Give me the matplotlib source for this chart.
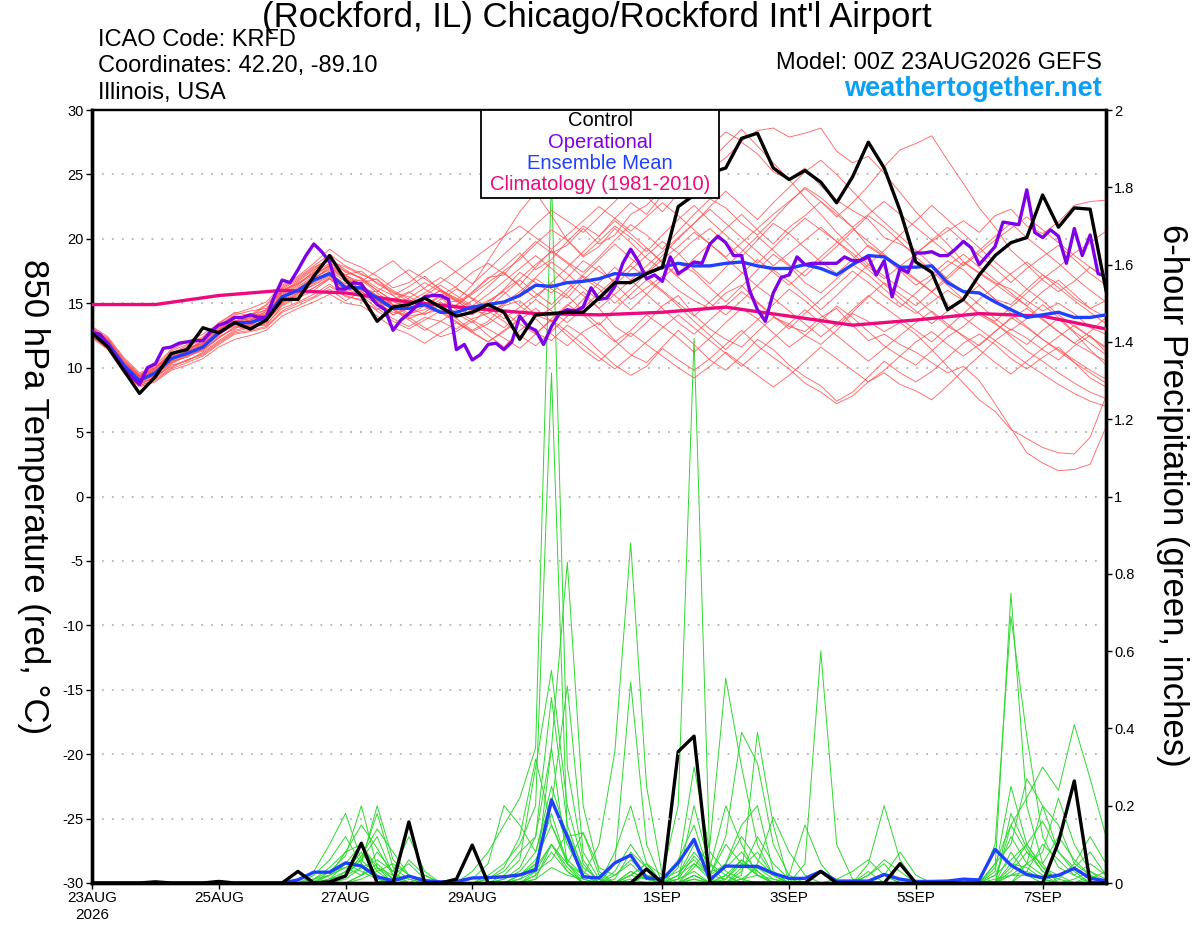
import numpy as np
import matplotlib
matplotlib.use('Agg')
import matplotlib.pyplot as plt
from matplotlib.patches import Rectangle

plt.rcParams['font.family'] = ['Liberation Sans', 'DejaVu Sans']
plt.rcParams['axes.unicode_minus'] = False

# forecast hours, 6-hourly for ensemble, 3-hourly for operational
hours = np.arange(0, 385, 6)
op_hours = np.arange(0, 385, 3)
clim_hours = np.arange(0, 385, 24)

# 850 hPa temperature (C)
control_t = [12.7, 11.6, 9.8, 8.0, 9.3, 11.1, 11.4, 13.1, 12.7, 13.5, 13.0, 13.7, 15.3,
             15.3, 17.1, 18.7, 16.8, 15.6, 13.6, 14.7, 14.9, 15.4, 14.7, 14.0, 14.3, 14.9,
             14.3, 12.2, 14.1, 14.2, 14.3, 14.3, 15.4, 16.6, 16.6, 17.3, 17.8, 22.5, 23.4,
             25.1, 25.5, 27.8, 28.2, 25.5, 24.6, 25.3, 24.4, 22.8, 24.8, 27.5, 25.5, 22.2,
             18.2, 17.4, 14.5, 15.3, 17.2, 18.7, 19.7, 20.1, 23.4, 20.9, 22.4, 22.3, 16.0]

mean_t = [12.8, 11.9, 10.2, 9.0, 9.6, 10.7, 11.1, 11.6, 12.7, 13.5, 13.5, 13.9, 15.5,
          16.0, 16.8, 17.3, 16.2, 16.2, 15.4, 14.6, 14.6, 14.9, 14.3, 14.3, 14.7, 14.9,
          15.1, 15.6, 16.4, 16.3, 16.6, 16.7, 16.9, 17.3, 17.2, 17.3, 17.8, 18.1, 17.9,
          17.9, 18.1, 18.2, 17.9, 17.7, 17.7, 18.0, 17.7, 17.2, 18.0, 18.7, 18.6, 17.8,
          17.8, 17.9, 16.6, 15.9, 15.8, 15.1, 14.5, 13.9, 14.1, 14.3, 13.9, 13.9, 14.1]

oper_t = [12.7, 12.6, 11.8, 10.8, 9.9, 9.3, 8.7, 10.0, 10.3, 11.5, 11.6, 11.9, 12.0,
          12.1, 12.1, 12.8, 13.3, 13.5, 13.9, 13.9, 14.1, 13.9, 13.9, 15.5, 16.8, 16.6,
          17.6, 18.7, 19.6, 19.0, 18.2, 16.1, 16.1, 16.6, 16.5, 15.6, 14.9, 14.5, 12.9,
          13.7, 14.2, 14.8, 15.5, 15.6, 15.6, 15.3, 11.4, 11.8, 10.6, 11.0, 11.8, 11.9,
          11.4, 12.0, 14.0, 13.2, 12.9, 11.8, 13.2, 14.2, 14.5, 14.4, 14.7, 16.2, 15.3,
          15.4, 16.3, 18.1, 19.2, 18.2, 16.9, 17.2, 16.7, 18.6, 17.3, 17.7, 18.2, 18.1,
          19.6, 20.2, 19.7, 18.7, 18.7, 16.0, 14.5, 13.6, 15.8, 17.0, 17.2, 18.6, 18.0,
          18.1, 18.1, 18.1, 18.1, 18.6, 18.3, 18.3, 18.6, 17.2, 18.3, 15.5, 17.7, 17.4,
          18.9, 18.9, 19.0, 18.7, 18.7, 19.2, 19.8, 19.3, 18.0, 18.7, 19.4, 21.3, 21.2,
          21.1, 23.8, 20.5, 20.1, 20.7, 20.2, 18.1, 20.8, 18.7, 20.3, 17.3, 17.1]

clim_t = [14.9, 14.9, 15.6, 16.0, 15.8, 15.1, 14.6, 14.2, 14.1, 14.3, 14.7, 14.0,
          13.3, 13.7, 14.2, 14.0, 13.0]

# ensemble members, 850 hPa temperature
t01 = [13.0, 12.2, 10.6, 9.4, 10.2, 11.4, 12.0, 12.6, 13.4, 14.3, 14.0, 14.8, 16.2,
       16.9, 17.8, 18.4, 17.6, 16.9, 16.0, 15.2, 15.8, 16.6, 15.9, 15.1, 15.8, 16.9,
       17.8, 18.9, 17.6, 18.4, 19.8, 21.0, 20.2, 21.6, 22.8, 21.9, 23.4, 24.8, 25.9,
       27.1, 28.3, 27.6, 28.4, 28.6, 27.9, 28.2, 28.6, 26.8, 25.9, 26.4, 25.1, 23.6,
       22.1, 20.8, 19.6, 18.2, 17.4, 16.6, 16.1, 15.2, 14.4, 15.0, 14.2, 13.1, 12.6]
t02 = [12.5, 11.6, 9.9, 8.8, 9.2, 10.2, 10.5, 11.2, 12.1, 12.9, 13.2, 13.3, 14.8,
       15.4, 16.0, 16.9, 15.8, 15.6, 14.6, 13.8, 13.2, 13.9, 13.6, 13.0, 13.8, 14.2,
       14.9, 15.7, 16.9, 16.1, 15.4, 16.8, 17.9, 16.5, 15.3, 16.2, 17.1, 16.0, 15.2,
       14.6, 15.8, 16.4, 15.1, 14.0, 13.2, 12.8, 13.9, 14.6, 13.3, 12.1, 12.6, 11.8,
       11.2, 10.4, 9.6, 10.1, 9.0, 7.2, 5.3, 3.4, 2.6, 2.0, 2.1, 2.5, 5.4]
t03 = [12.6, 11.8, 10.0, 8.9, 9.5, 10.4, 11.0, 11.4, 12.4, 13.0, 13.7, 14.2, 15.1,
       15.6, 16.2, 17.0, 16.0, 16.3, 15.6, 14.9, 14.0, 14.2, 14.5, 13.8, 12.9, 13.6,
       14.8, 15.2, 14.1, 13.6, 14.8, 15.9, 14.6, 13.2, 12.4, 13.5, 14.8, 15.6, 14.1,
       13.0, 12.2, 11.6, 12.8, 13.9, 13.4, 12.5, 11.8, 12.9, 14.2, 13.6, 12.8, 13.5,
       12.6, 11.4, 10.1, 8.8, 7.5, 6.6, 5.2, 4.5, 3.8, 3.4, 3.3, 4.6, 7.8]
t04 = [12.9, 12.1, 10.4, 9.2, 9.8, 10.9, 11.2, 11.9, 12.9, 13.7, 13.3, 14.0, 15.8,
       16.4, 17.5, 18.6, 17.0, 16.5, 15.2, 14.1, 14.8, 15.4, 14.6, 14.8, 15.9, 17.0,
       17.2, 18.6, 19.8, 18.9, 19.5, 20.8, 19.6, 20.3, 21.9, 22.6, 23.8, 24.9, 26.1,
       25.4, 26.3, 27.5, 26.6, 25.2, 24.6, 25.5, 24.1, 23.0, 22.2, 21.5, 20.1, 19.6,
       18.9, 19.8, 20.6, 21.4, 20.5, 21.8, 22.3, 21.0, 20.4, 21.3, 22.6, 22.9, 23.0]
t05 = [12.4, 11.5, 9.7, 8.6, 9.0, 9.9, 10.4, 10.9, 11.8, 12.6, 12.8, 13.1, 14.3,
       14.8, 15.4, 16.1, 15.2, 15.9, 15.1, 14.6, 13.9, 13.1, 12.4, 12.8, 13.6, 12.5,
       11.6, 12.9, 13.8, 12.6, 11.7, 12.8, 13.5, 12.1, 11.0, 10.4, 11.6, 12.9, 11.8,
       10.6, 9.8, 10.9, 12.2, 11.4, 10.2, 9.3, 8.6, 7.4, 8.1, 9.3, 10.5, 9.6,
       8.9, 9.7, 10.8, 11.9, 12.6, 11.8, 10.7, 9.9, 10.8, 11.6, 10.4, 9.2, 8.5]
t06 = [13.2, 12.4, 10.8, 9.6, 10.1, 11.0, 11.6, 12.2, 13.3, 14.1, 14.4, 14.6, 16.0,
       16.6, 17.3, 17.9, 17.2, 17.5, 16.5, 15.8, 15.5, 14.9, 15.6, 16.3, 17.4, 18.1,
       17.3, 16.4, 17.8, 19.1, 18.2, 17.4, 18.6, 19.9, 21.1, 20.3, 19.2, 20.6, 21.9,
       23.1, 22.4, 21.2, 20.3, 21.5, 22.8, 24.0, 23.2, 22.1, 20.9, 19.4, 18.6, 17.5,
       16.4, 17.2, 18.3, 17.6, 16.4, 15.3, 14.9, 16.1, 17.2, 16.5, 15.4, 14.6, 15.2]
t07 = [12.7, 11.7, 10.0, 8.7, 9.3, 10.3, 10.9, 11.3, 12.3, 13.2, 13.0, 13.5, 15.0,
       15.7, 16.5, 17.2, 16.4, 16.0, 15.9, 16.8, 17.6, 16.9, 16.1, 15.3, 14.6, 15.2,
       15.9, 14.8, 13.9, 14.6, 15.8, 17.1, 16.4, 15.6, 14.5, 15.7, 16.9, 18.1, 17.4,
       16.2, 15.1, 16.3, 17.6, 18.8, 17.9, 16.6, 15.8, 16.9, 18.0, 17.2, 16.1, 15.0,
       14.2, 15.1, 16.0, 15.2, 14.1, 13.4, 12.6, 11.8, 12.9, 13.8, 12.7, 11.4, 10.2]
t08 = [12.8, 12.0, 10.3, 9.1, 9.7, 10.8, 11.3, 11.8, 12.8, 13.4, 13.9, 14.3, 15.6,
       16.2, 17.0, 17.6, 16.9, 16.3, 15.0, 14.3, 14.1, 14.8, 15.5, 14.7, 14.1, 14.9,
       16.1, 17.4, 16.6, 15.8, 17.0, 18.3, 17.5, 16.7, 18.0, 19.3, 18.2, 17.1, 18.5,
       19.6, 20.8, 21.9, 20.7, 19.6, 20.9, 21.8, 22.9, 21.7, 22.8, 24.1, 25.6, 26.9,
       27.4, 28.0, 26.1, 24.3, 22.4, 20.9, 19.1, 18.0, 16.8, 15.9, 16.7, 17.8, 16.9]
t09 = [12.3, 11.4, 9.6, 8.5, 8.9, 9.8, 10.2, 10.7, 11.6, 12.2, 12.5, 12.9, 14.0,
       14.6, 15.1, 15.7, 15.0, 14.8, 14.0, 13.1, 12.6, 11.9, 12.7, 13.5, 12.8, 12.0,
       12.9, 13.8, 12.7, 12.1, 13.3, 12.5, 11.3, 10.2, 9.4, 10.1, 11.5, 10.6, 9.8,
       10.7, 11.8, 12.9, 11.7, 10.8, 9.9, 8.8, 8.1, 7.2, 7.8, 8.9, 9.6, 8.7,
       8.2, 7.5, 8.6, 9.8, 10.9, 12.1, 13.0, 12.3, 11.4, 10.6, 11.7, 12.5, 11.2]
t10 = [12.9, 12.0, 10.4, 9.3, 9.9, 11.0, 11.5, 12.0, 13.0, 13.9, 13.6, 14.1, 15.9,
       16.7, 17.6, 18.3, 17.8, 17.2, 16.8, 16.0, 15.3, 14.7, 14.2, 14.9, 15.7, 16.6,
       17.5, 18.4, 19.6, 20.7, 19.9, 18.6, 19.4, 20.8, 19.7, 18.5, 17.6, 18.8, 19.9,
       20.8, 19.7, 18.6, 19.9, 21.2, 20.4, 19.3, 18.2, 17.3, 18.4, 19.5, 18.7, 17.6,
       16.8, 15.9, 17.1, 18.2, 17.3, 16.5, 15.6, 14.8, 15.9, 16.8, 15.7, 14.6, 13.9]
t11 = [13.1, 12.3, 10.7, 9.5, 10.0, 11.3, 11.8, 12.4, 13.5, 14.2, 14.6, 15.1, 16.4,
       17.1, 18.1, 19.2, 18.3, 17.8, 17.1, 16.2, 16.6, 17.5, 18.3, 17.4, 16.5, 17.6,
       18.8, 19.9, 21.1, 22.2, 21.4, 20.5, 21.7, 22.9, 24.2, 23.3, 22.1, 23.5, 24.8,
       26.0, 27.3, 28.5, 27.2, 25.9, 24.6, 23.2, 21.9, 20.5, 19.3, 18.0, 17.1, 16.2,
       15.4, 14.3, 13.2, 12.5, 11.7, 12.8, 13.9, 13.1, 12.2, 11.4, 10.6, 9.8, 9.1]
t12 = [12.6, 11.7, 10.1, 9.0, 9.4, 10.5, 10.8, 11.5, 12.6, 13.3, 13.4, 13.8, 15.3,
       15.9, 16.6, 17.3, 16.5, 16.6, 16.9, 15.6, 14.7, 14.1, 14.9, 15.2, 14.4, 14.2,
       15.0, 15.9, 17.0, 18.2, 17.3, 16.2, 15.2, 16.4, 17.6, 18.7, 19.8, 18.9, 17.6,
       16.5, 17.8, 19.0, 20.2, 19.1, 18.0, 17.1, 18.3, 19.4, 20.6, 21.8, 20.9, 19.8,
       18.6, 17.5, 16.4, 15.3, 14.2, 13.6, 14.7, 15.8, 16.9, 17.8, 18.9, 19.7, 20.6]
t13 = [12.5, 11.6, 9.8, 8.7, 9.3, 10.1, 10.6, 11.1, 12.0, 12.8, 13.1, 13.4, 14.6,
       15.1, 15.7, 16.5, 15.5, 15.3, 14.4, 13.6, 13.0, 13.7, 14.4, 13.6, 12.8, 13.4,
       14.3, 13.4, 12.6, 13.8, 14.9, 14.1, 13.0, 12.0, 12.9, 14.1, 13.2, 12.3, 11.2,
       12.3, 13.5, 14.6, 13.8, 12.7, 11.6, 12.5, 13.6, 14.8, 13.9, 12.8, 11.7, 10.9,
       10.2, 11.3, 12.4, 13.2, 14.3, 13.5, 12.4, 11.3, 10.5, 9.6, 8.8, 8.1, 7.6]
t14 = [13.0, 12.1, 10.5, 9.3, 9.9, 11.1, 11.4, 12.1, 13.1, 13.8, 14.1, 14.5, 16.1,
       16.8, 17.7, 18.5, 17.4, 17.0, 16.2, 15.6, 16.3, 17.1, 16.0, 15.2, 16.4, 18.3,
       20.2, 22.1, 23.6, 21.8, 19.9, 18.7, 19.8, 21.0, 20.1, 19.0, 20.3, 21.5, 22.6,
       21.4, 20.3, 19.2, 18.1, 19.3, 20.5, 21.6, 20.7, 19.8, 18.9, 17.8, 16.9, 17.9,
       18.8, 19.9, 20.9, 19.8, 18.7, 17.7, 16.6, 17.7, 18.6, 19.5, 18.4, 17.3, 16.4]
t15 = [12.7, 11.8, 10.1, 8.9, 9.6, 10.6, 11.1, 11.6, 12.5, 13.4, 13.7, 14.0, 15.4,
       16.0, 16.7, 17.5, 16.7, 16.8, 15.8, 14.9, 14.2, 14.5, 15.3, 16.1, 15.4, 14.7,
       13.8, 14.7, 15.6, 16.5, 15.6, 14.4, 13.3, 14.5, 15.7, 16.8, 15.9, 14.8, 13.6,
       12.5, 11.4, 12.6, 13.7, 14.9, 16.1, 15.2, 14.1, 13.2, 14.3, 15.5, 16.6, 15.7,
       14.8, 15.9, 16.8, 15.9, 14.9, 13.8, 12.9, 13.8, 14.9, 13.9, 12.8, 11.9, 11.0]
t16 = [12.9, 12.0, 10.3, 9.2, 9.8, 10.8, 11.2, 11.7, 12.8, 13.6, 13.8, 14.2, 15.7,
       16.3, 17.1, 17.9, 16.8, 16.1, 15.3, 14.5, 13.8, 14.3, 15.1, 14.2, 13.5, 14.6,
       15.7, 16.8, 15.8, 14.9, 16.1, 17.2, 18.4, 19.6, 18.5, 17.4, 18.7, 20.0, 21.2,
       22.5, 23.7, 22.6, 21.5, 22.8, 24.0, 25.2, 26.1, 25.0, 23.7, 22.4, 21.3, 20.2,
       19.1, 18.0, 16.9, 18.0, 19.1, 20.2, 21.2, 20.1, 19.1, 18.1, 17.0, 16.0, 15.1]
t17 = [12.4, 11.5, 9.8, 8.6, 9.1, 10.0, 10.6, 11.0, 11.9, 12.7, 12.9, 13.2, 14.4,
       15.0, 15.5, 16.3, 15.6, 15.2, 14.5, 15.3, 15.9, 15.1, 14.3, 13.5, 12.7, 12.0,
       12.8, 13.7, 14.6, 13.6, 12.5, 11.4, 10.5, 11.6, 12.7, 11.8, 10.9, 10.0, 9.2,
       10.1, 11.2, 10.3, 9.4, 8.5, 9.4, 10.5, 11.6, 10.7, 9.8, 8.9, 9.8, 10.9,
       12.0, 12.8, 11.8, 10.9, 11.8, 12.8, 13.8, 14.6, 13.7, 12.8, 11.9, 11.2, 10.5]
t18 = [13.1, 12.2, 10.5, 9.3, 10.0, 11.1, 11.7, 12.3, 13.3, 14.0, 13.6, 13.9, 15.5,
       16.1, 16.9, 17.8, 17.1, 16.7, 17.5, 18.3, 17.2, 16.1, 15.4, 14.5, 15.2, 16.3,
       17.4, 16.3, 15.4, 16.6, 17.8, 19.0, 20.2, 21.4, 20.4, 19.3, 18.1, 17.0, 16.0,
       15.0, 14.1, 15.2, 16.4, 17.6, 16.7, 15.6, 14.5, 15.6, 16.8, 18.0, 19.1, 20.3,
       21.4, 22.6, 21.5, 20.4, 19.3, 18.2, 17.2, 16.1, 15.2, 14.1, 13.2, 12.4, 11.6]
t19 = [12.6, 11.7, 10.0, 8.8, 9.4, 10.4, 10.9, 11.4, 12.3, 13.1, 13.3, 13.6, 14.9,
       15.5, 16.2, 16.9, 16.1, 15.7, 14.9, 14.1, 14.6, 15.3, 16.0, 15.2, 14.3, 15.1,
       16.0, 16.9, 18.0, 19.0, 18.1, 17.0, 16.1, 15.0, 16.1, 17.3, 18.4, 19.4, 20.5,
       19.6, 18.5, 17.4, 16.3, 15.4, 14.4, 13.4, 12.4, 13.4, 14.5, 15.6, 14.7, 13.8,
       12.9, 12.0, 13.1, 14.2, 15.3, 16.3, 17.3, 18.2, 17.2, 16.2, 15.2, 14.3, 13.4]
t20 = [12.8, 11.9, 10.2, 9.0, 9.5, 10.7, 11.0, 11.7, 12.6, 13.3, 13.7, 14.4, 15.9,
       16.5, 17.4, 18.1, 17.5, 16.9, 16.0, 15.2, 14.5, 15.3, 16.0, 15.4, 14.7, 13.9,
       13.1, 14.2, 15.3, 14.4, 13.5, 14.6, 15.8, 16.9, 17.9, 17.0, 16.0, 15.0, 14.0,
       15.1, 16.2, 17.3, 18.4, 17.4, 16.4, 17.5, 18.6, 19.7, 20.8, 19.8, 18.8, 17.8,
       16.9, 15.9, 14.9, 13.9, 13.0, 12.1, 11.2, 10.3, 9.5, 8.7, 8.0, 7.4, 7.0]
t21 = [12.4, 11.6, 10.1, 9.1, 9.6, 10.5, 11.1, 11.8, 12.9, 13.8, 14.2, 14.0, 15.0,
       15.8, 16.9, 17.7, 17.0, 16.0, 15.5, 14.8, 15.4, 16.2, 17.0, 16.2, 15.3, 14.4,
       13.6, 12.5, 11.7, 12.8, 14.0, 15.3, 16.6, 17.8, 16.8, 15.7, 14.6, 13.5, 12.6,
       13.7, 14.8, 15.9, 15.0, 14.0, 13.0, 14.2, 15.3, 16.4, 17.5, 16.6, 15.6, 14.7,
       15.8, 16.9, 17.9, 18.8, 17.8, 16.8, 15.8, 14.8, 13.8, 12.8, 11.9, 12.8, 13.9]
t22 = [13.0, 12.0, 10.2, 9.0, 9.5, 10.6, 11.3, 12.1, 13.0, 13.6, 14.1, 14.9, 16.3,
       17.0, 17.9, 18.8, 17.9, 17.3, 16.6, 15.9, 15.1, 15.8, 16.6, 17.5, 18.4, 19.3,
       20.2, 21.0, 20.1, 19.2, 20.3, 21.4, 22.5, 21.6, 20.6, 21.7, 22.8, 21.8, 20.7,
       19.6, 18.6, 19.7, 20.8, 21.9, 22.9, 23.9, 22.9, 21.9, 20.9, 21.9, 22.9, 21.9,
       20.9, 19.9, 18.9, 17.9, 18.9, 19.9, 20.8, 21.7, 20.7, 19.7, 18.7, 17.8, 17.0]
t23 = [12.6, 11.8, 10.2, 9.2, 9.7, 10.9, 11.5, 11.9, 12.7, 13.5, 13.2, 13.7, 15.2,
       15.8, 16.4, 17.1, 16.3, 15.9, 15.2, 14.5, 13.7, 12.9, 13.6, 14.4, 13.7, 13.0,
       12.3, 11.5, 12.6, 13.7, 12.8, 11.8, 10.8, 9.9, 10.9, 12.0, 13.1, 14.1, 13.1,
       12.1, 11.1, 10.1, 11.2, 12.3, 13.4, 14.5, 13.5, 12.5, 11.5, 10.5, 11.5, 12.5,
       13.5, 14.4, 13.4, 12.4, 11.4, 10.4, 9.5, 10.5, 11.5, 12.4, 13.3, 12.4, 11.5]
t24 = [12.9, 12.1, 10.5, 9.4, 10.0, 11.0, 11.4, 11.9, 12.8, 13.6, 13.9, 14.5, 16.0,
       16.5, 17.2, 18.0, 17.2, 16.4, 15.6, 15.1, 14.8, 15.6, 16.4, 15.6, 14.8, 15.7,
       16.7, 17.7, 18.7, 17.7, 16.6, 15.6, 14.6, 15.7, 16.8, 17.9, 19.0, 20.1, 21.2,
       22.3, 21.2, 20.1, 19.0, 17.9, 18.9, 19.9, 20.9, 19.8, 18.7, 17.6, 16.5, 15.4,
       14.4, 13.4, 14.4, 15.4, 16.4, 15.3, 14.2, 13.2, 12.2, 11.3, 10.4, 9.6, 8.8]

# 6-hour precipitation (inches)
control_p = [0, 0, 0, 0, 0.003, 0, 0, 0, 0.004, 0, 0, 0, 0,
             0.03, 0, 0.003, 0.018, 0.103, 0, 0, 0.158, 0, 0, 0.01, 0.098, 0,
             0, 0, 0, 0, 0, 0, 0, 0, 0, 0.036, 0, 0.34, 0.38,
             0, 0, 0, 0, 0, 0, 0, 0.03, 0, 0, 0, 0, 0.05,
             0, 0, 0, 0, 0, 0, 0, 0, 0, 0.106, 0.264, 0, 0]

mean_p = [0, 0, 0, 0, 0.001, 0, 0, 0, 0.002, 0, 0, 0, 0,
          0.008, 0.028, 0.028, 0.052, 0.044, 0.016, 0.006, 0.018, 0.006, 0.003, 0.004, 0.013, 0.014,
          0.016, 0.021, 0.034, 0.215, 0.12, 0.016, 0.013, 0.052, 0.072, 0.013, 0.01, 0.052, 0.113,
          0.008, 0.044, 0.043, 0.043, 0.025, 0.012, 0.012, 0.03, 0.005, 0.005, 0.005, 0.022, 0.01,
          0.004, 0.004, 0.005, 0.01, 0.008, 0.087, 0.046, 0.022, 0.014, 0.02, 0.038, 0.012, 0.006]

p01 = [0, 0, 0, 0, 0, 0, 0, 0, 0, 0, 0, 0, 0,
       0, 0.02, 0.06, 0.12, 0.05, 0.01, 0, 0, 0, 0, 0, 0.03, 0.08,
       0.15, 0.22, 0.35, 1.83, 0.30, 0.06, 0, 0, 0.02, 0.05, 0, 0.01, 0.03,
       0, 0, 0.04, 0.08, 0.02, 0, 0, 0, 0, 0, 0.02, 0.05, 0,
       0, 0, 0, 0, 0, 0.02, 0.06, 0.1, 0.04, 0.02, 0, 0, 0]
p02 = [0, 0, 0, 0, 0, 0, 0, 0, 0, 0, 0, 0, 0,
       0, 0.01, 0.04, 0.08, 0.15, 0.09, 0.02, 0.01, 0, 0, 0, 0, 0.02,
       0.05, 0.1, 0.2, 1.32, 0.12, 0.02, 0, 0.03, 0.1, 0.04, 0, 0, 0.02,
       0, 0.05, 0.12, 0.06, 0.02, 0, 0, 0, 0, 0, 0, 0, 0,
       0, 0, 0, 0, 0, 0, 0.15, 0.08, 0.03, 0.01, 0.05, 0.12, 0.05]
p03 = [0, 0, 0, 0, 0, 0, 0, 0, 0, 0, 0, 0, 0,
       0.01, 0.03, 0.1, 0.18, 0.06, 0.02, 0, 0, 0, 0, 0, 0, 0,
       0.01, 0.04, 0.12, 0.35, 0.83, 0.2, 0.03, 0, 0, 0.02, 0.01, 0.06, 0.15,
       0.02, 0.1, 0.05, 0.02, 0, 0, 0, 0, 0, 0, 0.03, 0, 0,
       0, 0, 0, 0, 0, 0.03, 0.25, 0.1, 0.04, 0, 0, 0, 0]
p04 = [0, 0, 0, 0, 0, 0, 0, 0, 0, 0, 0, 0, 0,
       0, 0, 0.03, 0.07, 0.2, 0.04, 0, 0, 0.02, 0, 0, 0, 0,
       0, 0.02, 0.06, 0.15, 0.05, 0.02, 0.1, 0.34, 0.88, 0.25, 0.02, 0, 0,
       0, 0.02, 0.06, 0.02, 0, 0, 0.05, 0.6, 0.1, 0.01, 0, 0, 0,
       0, 0, 0, 0, 0, 0, 0, 0.05, 0.2, 0.08, 0.03, 0, 0]
p05 = [0, 0, 0, 0, 0, 0, 0, 0, 0, 0, 0, 0, 0,
       0, 0, 0.01, 0.05, 0.1, 0.03, 0, 0.06, 0.02, 0, 0, 0, 0,
       0, 0, 0.03, 0.1, 0.04, 0, 0, 0, 0.02, 0.05, 0.02, 0.2, 1.41,
       0.05, 0, 0.01, 0.04, 0.02, 0, 0, 0, 0, 0, 0, 0, 0,
       0, 0, 0, 0, 0, 0.01, 0.02, 0.02, 0.01, 0, 0, 0, 0]
p06 = [0, 0, 0, 0, 0, 0, 0, 0, 0, 0, 0, 0, 0,
       0, 0, 0, 0.03, 0.08, 0.02, 0, 0, 0, 0, 0, 0, 0.01,
       0.03, 0.08, 0.12, 0.48, 0.15, 0.03, 0, 0, 0, 0, 0, 0.02, 0.05,
       0.02, 0.01, 0.06, 0.03, 0, 0, 0, 0, 0, 0, 0, 0.02, 0,
       0, 0, 0, 0, 0, 0.04, 0.75, 0.2, 0.05, 0, 0, 0, 0]
p07 = [0, 0, 0, 0, 0, 0, 0, 0, 0, 0, 0, 0, 0,
       0, 0.01, 0.02, 0.04, 0.06, 0.12, 0.02, 0, 0, 0, 0, 0, 0,
       0, 0.01, 0.05, 0.2, 0.51, 0.08, 0.01, 0, 0.03, 0.01, 0, 0, 0.04,
       0.1, 0.53, 0.3, 0.1, 0.02, 0, 0, 0, 0, 0, 0, 0, 0,
       0, 0, 0, 0, 0, 0.1, 0.69, 0.38, 0.12, 0.04, 0.02, 0, 0]
p08 = [0, 0, 0, 0, 0, 0, 0, 0, 0, 0, 0, 0, 0,
       0, 0, 0.01, 0.03, 0.05, 0.2, 0.06, 0.02, 0, 0, 0, 0, 0,
       0, 0, 0.02, 0.08, 0.03, 0, 0, 0.05, 0.52, 0.1, 0, 0, 0.02,
       0, 0, 0.02, 0.39, 0.15, 0, 0, 0, 0, 0, 0, 0, 0,
       0, 0, 0, 0, 0, 0.05, 0.15, 0.22, 0.3, 0.24, 0.41, 0.27, 0.12]
p09 = [0, 0, 0, 0, 0, 0, 0, 0, 0, 0, 0, 0, 0,
       0, 0, 0, 0.02, 0.04, 0.06, 0.03, 0.12, 0.03, 0, 0, 0, 0,
       0, 0.02, 0.04, 0.1, 0.05, 0.13, 0.02, 0, 0, 0.02, 0.01, 0.03, 0.06,
       0.02, 0.12, 0.39, 0.31, 0.1, 0.02, 0, 0, 0, 0, 0, 0.02, 0.08,
       0.02, 0, 0, 0, 0, 0.05, 0.1, 0.27, 0.2, 0.15, 0.05, 0.02, 0]
p10 = [0, 0, 0, 0, 0, 0, 0, 0, 0, 0, 0, 0, 0,
       0, 0, 0, 0, 0.02, 0.08, 0.03, 0, 0, 0, 0, 0, 0,
       0.02, 0.06, 0.3, 0.55, 0.2, 0.05, 0, 0.08, 0.2, 0.05, 0, 0.02, 0.1,
       0.05, 0.02, 0, 0.05, 0.17, 0.08, 0.02, 0, 0, 0, 0.05, 0.2, 0.06,
       0, 0, 0, 0, 0, 0, 0.02, 0.05, 0.02, 0, 0, 0, 0]
p11 = [0, 0, 0, 0, 0, 0, 0, 0, 0, 0, 0, 0, 0,
       0, 0, 0.02, 0.05, 0.03, 0.01, 0, 0, 0, 0, 0, 0.01, 0.05,
       0.2, 0.15, 0.08, 0.25, 0.12, 0.13, 0.04, 0.02, 0.05, 0.01, 0, 0.04, 0.3,
       0.08, 0.03, 0.01, 0, 0, 0.02, 0.15, 0.05, 0, 0, 0, 0, 0,
       0, 0, 0, 0, 0, 0, 0.03, 0.08, 0.05, 0.12, 0.06, 0.02, 0]
p12 = [0, 0, 0, 0, 0, 0, 0, 0, 0, 0, 0, 0, 0,
       0, 0, 0.01, 0.02, 0.07, 0.14, 0.08, 0.02, 0, 0, 0, 0, 0,
       0, 0, 0.02, 0.35, 0.05, 0, 0, 0.02, 0.06, 0.02, 0, 0.02, 0.08,
       0.03, 0.04, 0.08, 0.03, 0, 0, 0, 0, 0, 0, 0, 0, 0,
       0, 0, 0, 0, 0, 0.02, 0.12, 0.05, 0.08, 0.22, 0.1, 0.03, 0]
p13 = [0, 0, 0, 0, 0, 0, 0, 0, 0, 0, 0, 0, 0,
       0, 0.005, 0.02, 0.08, 0.1, 0.04, 0.02, 0.05, 0.01, 0, 0, 0, 0,
       0.01, 0.03, 0.08, 0.22, 0.1, 0.02, 0, 0.01, 0.08, 0.04, 0, 0.01, 0.2,
       0.04, 0.2, 0.1, 0.02, 0, 0, 0, 0, 0.01, 0.03, 0.06, 0.02, 0,
       0, 0, 0, 0, 0, 0, 0.04, 0.1, 0.16, 0.08, 0.04, 0.08, 0.02]
p14 = [0, 0, 0, 0, 0, 0, 0, 0, 0, 0, 0, 0, 0,
       0, 0, 0, 0.01, 0.04, 0.02, 0, 0, 0, 0, 0, 0, 0,
       0, 0.02, 0.05, 0.18, 0.05, 0.01, 0, 0, 0, 0, 0, 0.01, 0.07,
       0.02, 0.05, 0.15, 0.2, 0.03, 0, 0, 0, 0, 0, 0, 0, 0,
       0, 0, 0, 0, 0, 0, 0.08, 0.02, 0, 0, 0, 0.01, 0.03]
p15 = [0, 0, 0, 0, 0, 0, 0, 0, 0, 0, 0, 0, 0,
       0, 0, 0, 0, 0.01, 0.03, 0.05, 0.02, 0, 0, 0, 0, 0,
       0, 0, 0.01, 0.04, 0.02, 0.01, 0, 0, 0.03, 0.01, 0, 0, 0.05,
       0.01, 0, 0.03, 0.12, 0.05, 0.01, 0, 0, 0, 0, 0, 0, 0,
       0, 0, 0, 0, 0, 0, 0.18, 0.09, 0.03, 0.01, 0, 0, 0]
p16 = [0, 0, 0, 0, 0, 0, 0, 0, 0, 0, 0, 0, 0,
       0, 0.01, 0.03, 0.04, 0.02, 0.05, 0.01, 0, 0, 0, 0, 0, 0.01,
       0.04, 0.12, 0.32, 0.15, 0.06, 0.02, 0, 0, 0.01, 0, 0, 0, 0.01,
       0, 0.02, 0, 0, 0, 0, 0, 0, 0, 0, 0.02, 0.06, 0.03,
       0, 0, 0, 0, 0, 0, 0.02, 0.03, 0.01, 0, 0.01, 0.03, 0.01]
p17 = [0, 0, 0, 0, 0, 0, 0, 0, 0, 0, 0, 0, 0,
       0, 0, 0.01, 0.02, 0.06, 0.18, 0.04, 0.01, 0, 0, 0, 0, 0,
       0, 0.01, 0.03, 0.06, 0.13, 0.04, 0.01, 0, 0.02, 0.01, 0, 0, 0.01,
       0, 0.01, 0.05, 0.04, 0.01, 0, 0, 0, 0, 0, 0, 0, 0,
       0, 0, 0, 0, 0, 0, 0, 0.03, 0.1, 0.06, 0.02, 0.05, 0.02]
p18 = [0, 0, 0, 0, 0, 0, 0, 0, 0, 0, 0, 0, 0,
       0, 0, 0, 0, 0.02, 0.04, 0.01, 0, 0, 0, 0, 0, 0,
       0, 0, 0.01, 0.1, 0.03, 0, 0, 0, 0, 0, 0, 0, 0.02,
       0, 0, 0.01, 0.02, 0.01, 0, 0, 0, 0, 0, 0, 0, 0,
       0, 0, 0, 0, 0, 0, 0.05, 0.04, 0.01, 0, 0, 0.02, 0]

temp_members = [t01, t02, t03, t04, t05, t06, t07, t08, t09, t10, t11, t12,
                t13, t14, t15, t16, t17, t18, t19, t20, t21, t22, t23, t24]
precip_members = [p01, p02, p03, p04, p05, p06, p07, p08, p09,
                  p10, p11, p12, p13, p14, p15, p16, p17, p18]

tick_hours = [0, 48, 96, 144, 216, 264, 312, 360]
tick_labels = ['23AUG\n2026', '25AUG', '27AUG', '29AUG', '1SEP', '3SEP', '5SEP', '7SEP']

RED = '#ff4f4f'
GREEN = '#2ed82e'
PURPLE = '#8000e6'
BLUE = '#2040ff'
PINK = '#ee0a7c'

fig = plt.figure(figsize=(12, 9.27), dpi=100)
ax = fig.add_axes([92 / 1200, 1 - 883 / 927, (1106 - 92) / 1200, (883 - 110) / 927])
ax2 = ax.twinx()
# temperature axes drawn above the precipitation axes
ax.set_zorder(ax2.get_zorder() + 1)
ax.patch.set_visible(False)

# precipitation
for p in precip_members:
    ax2.plot(hours, p, color=GREEN, lw=0.7, zorder=2)
ax2.plot(hours, mean_p, color=BLUE, lw=2.4, zorder=4)
ax2.plot(hours, control_p, color='black', lw=2.4, zorder=5)
ax2.set_ylim(0, 2)
ax2.set_yticks(np.arange(0, 2.01, 0.2))
ax2.set_yticklabels(['0', '0.2', '0.4', '0.6', '0.8', '1', '1.2', '1.4', '1.6', '1.8', '2'])

# temperature
for t in temp_members:
    ax.plot(hours, t, color=RED, lw=0.65, alpha=0.85, zorder=2)
ax.plot(clim_hours, clim_t, color=PINK, lw=2.4, zorder=4)
ax.plot(hours, mean_t, color=BLUE, lw=2.4, zorder=5)
ax.plot(op_hours, oper_t, color=PURPLE, lw=2.4, zorder=6)
ax.plot(hours, control_t, color='black', lw=2.4, zorder=7)

ax.set_xlim(0, 384)
ax.set_ylim(-30, 30)
ax.set_yticks(np.arange(-30, 31, 5))
ax.set_xticks(tick_hours)
ax.set_xticklabels(tick_labels, linespacing=1.2)

for lev in range(-25, 30, 5):
    ax.axhline(lev, color='#b4b4b4', lw=1.3, ls=(0, (1, 4.5)), zorder=1)

for a in (ax, ax2):
    a.tick_params(labelsize=10.5, length=4, width=1, direction='out', pad=2)
    for side in ('left', 'right', 'bottom'):
        a.spines[side].set_linewidth(2.4)
    a.spines['top'].set_linewidth(1.6)
ax.tick_params(axis='x', labelsize=11, pad=2)

# legend box
ax.add_patch(Rectangle((0.3836, 0.886), 0.2347, 0.114, transform=ax.transAxes,
                       facecolor='white', edgecolor='black', lw=1.3, zorder=20, clip_on=False))
leg_items = [('Control', 'black', 0.9858), ('Operational', PURPLE, 0.9586),
             ('Ensemble Mean', BLUE, 0.9314), ('Climatology (1981-2010)', PINK, 0.903)]
for txt, col, yy in leg_items:
    ax.text(0.501, yy, txt, color=col, fontsize=14.5, ha='center', va='center',
            transform=ax.transAxes, zorder=21)

# titles and labels
fig.text(0.4975, 1 - 18 / 927, "(Rockford, IL) Chicago/Rockford Int'l Airport",
         fontsize=25, ha='center', va='center')
fig.text(98 / 1200, 1 - 40 / 927, 'ICAO Code: KRFD', fontsize=17, ha='left', va='center')
fig.text(98 / 1200, 1 - 66 / 927, 'Coordinates: 42.20, -89.10', fontsize=17, ha='left', va='center')
fig.text(98 / 1200, 1 - 93 / 927, 'Illinois, USA', fontsize=17, ha='left', va='center')
fig.text(1102 / 1200, 1 - 63 / 927, 'Model: 00Z 23AUG2026 GEFS', fontsize=17, ha='right', va='center')
fig.text(1102 / 1200, 1 - 89 / 927, 'weathertogether.net', fontsize=19.5, fontweight='bold',
         color='#0aa0f5', ha='right', va='center')
fig.text(33 / 1200, 1 - 497 / 927, '850 hPa Temperature (red, \u00b0C)', fontsize=25,
         rotation=-90, ha='center', va='center')
fig.text(1172 / 1200, 1 - 495 / 927, '6-hour Precipitation (green, inches)', fontsize=25,
         rotation=-90, ha='center', va='center')

fig.savefig('out.png', dpi=100)
